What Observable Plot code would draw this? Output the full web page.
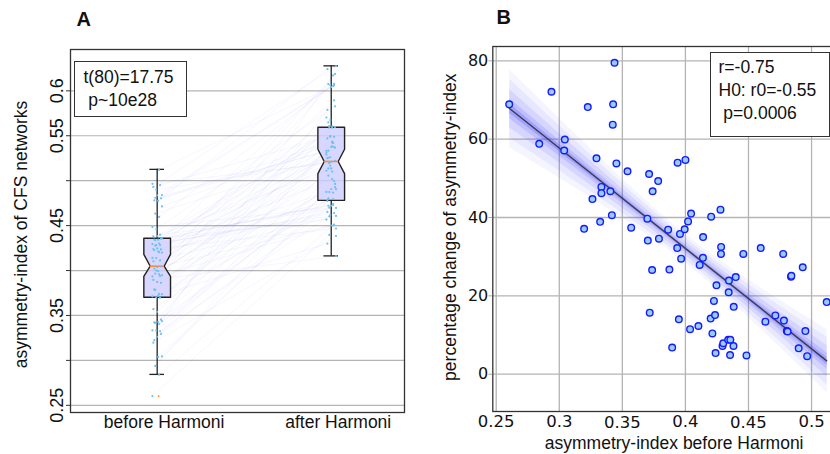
<!DOCTYPE html>
<html>
<head>
<meta charset="utf-8">
<script src="https://cdn.jsdelivr.net/npm/d3@7"></script>
<script src="https://cdn.jsdelivr.net/npm/@observablehq/plot@0.6"></script>
<style>
  body { margin: 0; background: #fff; }
  #wrap { position: relative; width: 830px; height: 454px; overflow: hidden; background: #fff; }
  #a, #b { position: absolute; top: 0; }
  #a { left: 0; }
  #b { left: 415px; }
  .stats { position: absolute; box-sizing: border-box; border: 1.3px solid #333; background: #fff;
           font-family: "Liberation Sans", Arial, sans-serif; font-size: 17.5px; color: #111; white-space: pre; }
</style>
</head>
<body>
<div id="wrap">
  <div id="a"></div>
  <div id="b"></div>
  <div class="stats" id="statsA" style="left:73.5px; top:61px; width:113.5px; height:55.5px; padding:4px 0 0 9px; line-height:22.7px;"></div>
  <div class="stats" id="statsB" style="left:710px; top:52px; width:120px; height:84.5px; padding:2.5px 0 0 7.5px; line-height:23.3px;"></div>
</div>
<script>
// ---------------- data ----------------
const groups = ["before Harmoni", "after Harmoni"];

// asymmetry-index before Harmoni (x of panel B) and percentage change (y of panel B), one per subject
const beforeIdx = [
  0.2603, 0.2841, 0.2938, 0.3044, 0.3039, 0.3226, 0.3295, 0.3263, 0.3197, 0.3324,
  0.3334, 0.3334, 0.3405, 0.3417, 0.3438, 0.3427, 0.3424, 0.3453, 0.3541, 0.3570,
  0.3698, 0.3702, 0.3712, 0.3740, 0.3784, 0.3736, 0.3717, 0.3790, 0.3863, 0.3873,
  0.3895, 0.3938, 0.4000, 0.3935, 0.3957, 0.3966, 0.3948, 0.3994, 0.4021, 0.4045,
  0.4037, 0.4103, 0.4113, 0.4139, 0.4140, 0.4204, 0.4278, 0.4200, 0.4214, 0.4226,
  0.4235, 0.4246, 0.4239, 0.4283, 0.4282, 0.4294, 0.4300, 0.4339, 0.4356, 0.4343,
  0.4345, 0.4354, 0.4383, 0.4381, 0.4399, 0.4459, 0.4484, 0.4597, 0.4634, 0.4713,
  0.4775, 0.4781, 0.4804, 0.4837, 0.4930, 0.4951, 0.4898, 0.4965, 0.5120, 0.4810,
  0.4840
];
const pctChange = [
  68.9, 58.8, 72.1, 59.9, 57.1, 68.2, 55.1, 44.7, 37.1, 38.9,
  47.8, 46.2, 46.7, 40.6, 79.5, 68.9, 63.7, 53.8, 51.8, 37.4,
  39.7, 34.1, 51.1, 46.7, 49.3, 26.6, 15.7, 34.6, 36.9, 26.7,
  6.8, 54.0, 54.7, 32.2, 35.8, 29.5, 14.0, 37.0, 39.0, 41.0,
  11.5, 12.3, 27.9, 29.7, 35.0, 40.2, 42.0, 14.2, 10.4, 18.7,
  15.1, 22.7, 5.4, 32.5, 30.7, 7.2, 7.9, 8.8, 8.8, 20.9,
  23.9, 4.9, 17.2, 7.2, 24.8, 30.7, 4.8, 32.2, 13.4, 15.0,
  30.7, 13.7, 11.0, 24.9, 27.3, 11.0, 6.6, 4.6, 18.4, 10.9,
  25.1
];

// notched box statistics (before, after)
const q1Vals      = [0.3703, 0.4781];
const medianVals  = [0.4048, 0.5214];
const q3Vals      = [0.4360, 0.5594];
const notchLoVals = [0.3935, 0.5078];
const notchHiVals = [0.4180, 0.5350];
const whiskLoVals = [0.2844, 0.4163];
const whiskHiVals = [0.5126, 0.6278];
const flierVals   = [[0.2603], []];

const yTicksA = [0.25, 0.3, 0.35, 0.4, 0.45, 0.5, 0.55, 0.6];
const yLabelsA = [0.25, 0.35, 0.45, 0.55, 0.6];
const xTicksB = [0.25, 0.3, 0.35, 0.4, 0.45, 0.5];
const xTicksBLow = [0.35, 0.45];
const yTicksB = [0, 20, 40, 60, 80];

const statsA = ["t(80)=17.75", " p~10e28"];
const statsB = ["r=-0.75", "H0: r0=-0.55", " p=0.0006"];

// ---------------- derived tables ----------------
const subjects = beforeIdx.map((b, i) => ({
  i, before: b, pct: pctChange[i], after: b * (1 + pctChange[i] / 100)
}));
// small deterministic horizontal jitter (style only)
const jitA = i => (((i * 7) % 11) - 5) * 0.0055;
const jitB = i => (((i * 5 + 3) % 11) - 5) * 0.0055;

const boxes = groups.map((g, k) => ({
  g, pos: k, q1: q1Vals[k], med: medianVals[k], q3: q3Vals[k],
  nlo: notchLoVals[k], nhi: notchHiVals[k], wlo: whiskLoVals[k], whi: whiskHiVals[k]
}));
const boxW = 0.0767, notchW = 0.040, capW = 0.042;
const outline = boxes.flatMap(b => [
  [b.pos - boxW, b.q1], [b.pos + boxW, b.q1], [b.pos + boxW, b.nlo], [b.pos + notchW, b.med],
  [b.pos + boxW, b.nhi], [b.pos + boxW, b.q3], [b.pos - boxW, b.q3], [b.pos - boxW, b.nhi],
  [b.pos - notchW, b.med], [b.pos - boxW, b.nlo], [b.pos - boxW, b.q1]
].map(([x, y]) => ({ g: b.g, x, y })));
const fliers = flierVals.flatMap((arr, k) => arr.map(v => ({ pos: k, v })));
const dotsA = subjects.flatMap(s => [
  { x: 0 + jitA(s.i), y: s.before },
  { x: 1 + jitB(s.i), y: s.after }
]);

const sans = "'Liberation Sans', Arial, sans-serif";
const deja = "'DejaVu Sans', sans-serif";

// ---------------- panel A ----------------
const plotA = Plot.plot({
  width: 415, height: 454,
  marginLeft: 70, marginRight: 11, marginTop: 49, marginBottom: 42,
  style: { background: "transparent", fontFamily: sans, color: "#111" },
  x: { domain: [-0.498, 1.421], axis: null },
  y: { domain: [0.242, 0.646], axis: null, label: null },
  marks: [
    Plot.ruleY(yTicksA, { stroke: "#b4b4b4", strokeWidth: 1.2 }),
    Plot.link(subjects, {
      x1: d => 0 + jitA(d.i), y1: "before", x2: d => 1 + jitB(d.i), y2: "after",
      stroke: "#4a4aff", strokeOpacity: 0.05, strokeWidth: 1
    }),
    Plot.ruleX(boxes, { x: "pos", y1: "wlo", y2: "q1", stroke: "#222", strokeWidth: 1.3 }),
    Plot.ruleX(boxes, { x: "pos", y1: "q3", y2: "whi", stroke: "#222", strokeWidth: 1.3 }),
    Plot.ruleY(boxes, { y: "wlo", x1: d => d.pos - capW, x2: d => d.pos + capW, stroke: "#222", strokeWidth: 1.3 }),
    Plot.ruleY(boxes, { y: "whi", x1: d => d.pos - capW, x2: d => d.pos + capW, stroke: "#222", strokeWidth: 1.3 }),
    Plot.line(outline, { x: "x", y: "y", z: "g", fill: "#cdcdff", fillOpacity: 0.8, stroke: "#222", strokeWidth: 1.4 }),
    Plot.ruleY(boxes, { y: "med", x1: d => d.pos - notchW, x2: d => d.pos + notchW, stroke: "#ff8a2a", strokeWidth: 1.6 }),
    Plot.dot(dotsA, { x: "x", y: "y", r: 1.1, fill: "#6cc0f2", stroke: null }),
    Plot.dot(fliers, { x: d => d.pos + 0.008, y: "v", r: 0.9, fill: "#ff7f0e", stroke: null }),
    Plot.frame({ stroke: "#333", strokeWidth: 1.3 }),
    Plot.axisY(yTicksA, { tickSize: 4, stroke: "#333", tickFormat: () => "", label: null }),
    Plot.text(yLabelsA, {
      y: d => d, frameAnchor: "left", dx: -8, rotate: -90, text: d => String(d),
      textAnchor: "middle", lineAnchor: "bottom", fontSize: 18, fontFamily: sans, fill: "#111"
    }),
    Plot.text(groups, {
      x: (d, i) => i, frameAnchor: "bottom", dx: 7, dy: 15, text: d => d,
      textAnchor: "middle", lineAnchor: "bottom", fontSize: 17.5, fontFamily: sans, fill: "#111"
    }),
    Plot.text(["asymmetry-index of CFS networks"], {
      frameAnchor: "left", dx: -44, dy: 3.5, rotate: -90, text: d => d,
      textAnchor: "middle", lineAnchor: "bottom", fontSize: 17.5, fontFamily: sans, fill: "#111"
    }),
    Plot.text(["A"], {
      frameAnchor: "top-left", dx: 6, dy: -24, text: d => d, textAnchor: "start",
      lineAnchor: "bottom", fontSize: 20, fontWeight: "bold", fontFamily: sans, fill: "#111"
    })
  ]
});
document.getElementById("a").append(plotA);

// ---------------- panel B ----------------
const regOpts = { x: "before", y: "pct" };
const plotB = Plot.plot({
  width: 415, height: 454,
  marginLeft: 77.3, marginRight: -2, marginTop: 46, marginBottom: 43,
  style: { background: "transparent", fontFamily: sans, color: "#111", overflow: "hidden" },
  x: { domain: [0.2473, 0.5166], axis: null, label: null },
  y: { domain: [-9.52, 83.65], axis: null, label: null },
  marks: [
    Plot.ruleX(xTicksB, { stroke: "#b4b4b4", strokeWidth: 1.3 }),
    Plot.ruleY(yTicksB, { stroke: "#b4b4b4", strokeWidth: 1.3 }),
    Plot.linearRegressionY(subjects, { ...regOpts, ci: 0.99, fill: "#3a3aff", fillOpacity: 0.05, strokeOpacity: 0 }),
    Plot.linearRegressionY(subjects, { ...regOpts, ci: 0.95, fill: "#3a3aff", fillOpacity: 0.07, strokeOpacity: 0 }),
    Plot.linearRegressionY(subjects, { ...regOpts, ci: 0.8, fill: "#3a3aff", fillOpacity: 0.1, strokeOpacity: 0 }),
    Plot.linearRegressionY(subjects, { ...regOpts, ci: 0.5, fill: "#3a3aff", fillOpacity: 0.14, strokeOpacity: 0 }),
    Plot.linearRegressionY(subjects, { ...regOpts, ci: 0.25, fill: "#2a2aff", fillOpacity: 0.2, strokeOpacity: 0 }),
    Plot.linearRegressionY(subjects, { ...regOpts, ci: 0, stroke: "#3a3a4a", strokeWidth: 1.4 }),
    Plot.dot(subjects, { ...regOpts, r: 3.3, fill: "#96cdf5", stroke: "#1818ff", strokeWidth: 1.4 }),
    Plot.frame({ stroke: "#333", strokeWidth: 1.3 }),
    Plot.axisY(yTicksB, { tickSize: 4, stroke: "#aaa", tickFormat: () => "", label: null }),
    Plot.text(yTicksB, {
      y: d => d, frameAnchor: "left", dx: -4.5, text: d => String(d),
      textAnchor: "end", lineAnchor: "middle", fontSize: 16, fontFamily: deja, fill: "#111"
    }),
    Plot.text(xTicksB.filter(d => !xTicksBLow.includes(d)), {
      x: d => d, frameAnchor: "bottom", dy: 15.5, text: d => String(d),
      textAnchor: "middle", lineAnchor: "bottom", fontSize: 16.5, fontFamily: deja, fill: "#111"
    }),
    Plot.text(xTicksBLow, {
      x: d => d, frameAnchor: "bottom", dy: 16.5, text: d => String(d),
      textAnchor: "middle", lineAnchor: "bottom", fontSize: 16.5, fontFamily: deja, fill: "#111"
    }),
    Plot.text(["asymmetry-index before Harmoni"], {
      frameAnchor: "bottom", dx: 11.5, dy: 37, text: d => d,
      textAnchor: "middle", lineAnchor: "bottom", fontSize: 17.5, fontFamily: sans, fill: "#111"
    }),
    Plot.text(["percentage change of asymmetry-index"], {
      frameAnchor: "left", dx: -37, dy: -1.8, rotate: -90, text: d => d,
      textAnchor: "middle", lineAnchor: "bottom", fontSize: 17.5, fontFamily: sans, fill: "#111"
    }),
    Plot.text(["B"], {
      frameAnchor: "top-left", dx: 3.7, dy: -22.7, text: d => d, textAnchor: "start",
      lineAnchor: "bottom", fontSize: 20, fontWeight: "bold", fontFamily: sans, fill: "#111"
    })
  ]
});
document.getElementById("b").append(plotB);

document.getElementById("statsA").textContent = statsA.join("\n");
document.getElementById("statsB").textContent = statsB.join("\n");
</script>
</body>
</html>
